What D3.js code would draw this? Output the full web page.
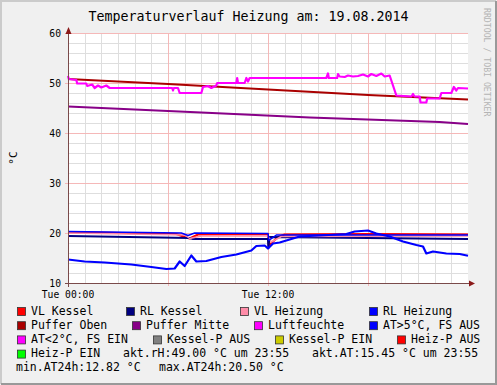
<!DOCTYPE html>
<html>
<head>
<meta charset="utf-8">
<script src="https://cdn.jsdelivr.net/npm/d3@7"></script>
<style>
  body { margin: 0; background: #fff; }
  text { font-family: "DejaVu Sans Mono", monospace; }
</style>
</head>
<body>
<svg width="497" height="385"></svg>
<script>
// hours since 19.08.2014 00:00, values in °C / %
var vlKesselHours = [0, 6.5, 7.0, 7.3, 7.8, 12.0, 12.05, 12.6, 13.0, 18, 24];
var vlKesselValues = [20.2, 19.8, 19.2, 18.9, 19.7, 19.8, 17.5, 19.2, 19.7, 19.8, 19.7];

var rlKesselHours = [0, 7.3, 7.5, 12.0, 12.02, 12.1, 18, 24];
var rlKesselValues = [19.4, 19.0, 18.8, 18.8, 17.0, 19.2, 19.0, 18.8];

var vlHeizungHours = [0, 7.0, 7.3, 8.0, 12.0, 12.2, 12.8, 24];
var vlHeizungValues = [20.0, 19.6, 18.9, 19.4, 19.4, 18.2, 19.3, 19.4];

var rlHeizungHours = [0, 6.8, 7.2, 7.6, 12.0, 12.05, 12.5, 24];
var rlHeizungValues = [20.3, 20.0, 19.5, 20.0, 19.9, 18.5, 19.6, 19.6];

var pufferObenHours = [0, 6, 12, 18, 24];
var pufferObenValues = [50.8, 49.8, 48.7, 47.6, 46.7];

var pufferMitteHours = [0, 8, 14.5, 22.3, 24];
var pufferMitteValues = [45.3, 44.1, 43.1, 42.2, 41.8];

var luftHours = [0, 0.05, 0.5, 0.55, 1.1, 1.15, 1.45, 1.6, 1.8, 2.0, 2.3, 2.5,
  6.25, 6.3, 6.35, 6.6, 6.7, 8.0, 8.1, 8.4, 8.6, 8.9, 8.95, 10.1, 10.15, 10.2,
  10.6, 10.7, 10.8, 10.9, 15.5, 15.6, 15.65, 16.15, 16.2, 16.3, 16.6, 16.8, 17.1,
  17.4, 17.7, 18.0, 18.2, 18.5, 18.8, 19.0, 19.3, 19.5, 19.7, 20.6, 20.7, 20.8,
  21.1, 21.15, 21.5, 21.55, 22.3, 22.4, 23.0, 23.15, 23.3, 23.4, 24];
var luftValues = [51.4, 50.8, 50.6, 49.9, 49.9, 49.4, 49.7, 49.0, 49.5, 49.1, 49.5, 49.0,
  49.0, 48.5, 49.0, 49.0, 48.0, 48.0, 49.2, 49.4, 49.0, 49.5, 50.0, 50.0, 51.0, 50.0,
  50.0, 51.0, 50.3, 51.0, 51.0, 51.9, 51.0, 51.0, 51.8, 51.3, 51.2, 51.5, 51.3,
  51.4, 51.7, 51.3, 51.8, 51.4, 51.9, 51.3, 51.5, 49.5, 47.5, 47.3, 47.8, 47.3,
  47.3, 46.1, 46.1, 46.9, 46.9, 48.0, 48.0, 49.2, 48.5, 49.0, 48.9];

var atHours = [0, 1.0, 2.2, 3.8, 5.0, 5.9, 6.4, 6.7, 7.0, 7.4, 7.7, 8.3, 9.2, 10.1,
  11.0, 11.3, 11.8, 12.0, 12.3, 12.7, 13.3, 13.9, 15.1, 16.7, 17.2, 18.0, 18.5,
  19.3, 20.1, 20.9, 21.3, 21.5, 21.9, 22.7, 23.5, 24];
var atValues = [14.7, 14.3, 14.1, 13.7, 13.2, 12.8, 12.9, 14.3, 13.4, 15.5, 14.3, 14.4,
  15.2, 15.7, 16.5, 17.4, 17.5, 16.9, 17.9, 18.1, 18.7, 19.3, 19.5, 19.8, 20.3, 20.5,
  19.9, 19.3, 18.3, 17.6, 17.3, 15.9, 16.3, 15.9, 15.8, 15.45];

var legendNames = ["VL Kessel", "RL Kessel", "VL Heizung", "RL Heizung",
  "Puffer Oben", "Puffer Mitte", "Luftfeuchte", "AT>5°C, FS AUS",
  "AT<2°C, FS EIN", "Kessel-P AUS", "Kessel-P EIN", "Heiz-P AUS", "Heiz-P EIN"];
var legendColors = ["#ff0000", "#000080", "#ff8ca8", "#0000ff",
  "#aa0000", "#880088", "#ff00ff", "#0000ff",
  "#ff00ff", "#808080", "#cccc00", "#ff0000", "#00ff00"];
var statLines = ["akt.rH:49.00 °C um 23:55", "akt.AT:15.45 °C um 23:55",
  "min.AT24h:12.82 °C", "max.AT24h:20.50 °C"];

var yTicks = [10, 20, 30, 40, 50, 60];

function main() {
  var svg = d3.select("svg"),
      left = 68, top = 33, width = 400, height = 250;

  var t0 = new Date(2014, 7, 19, 0, 0), t1 = new Date(2014, 7, 20, 0, 0);
  var toDate = function(h) { return new Date(t0.getTime() + h * 3600e3); };

  var x = d3.scaleTime().domain([t0, t1]).range([left, left + width]);
  var y = d3.scaleLinear().domain([10, 60]).range([top + height, top]);

  // frame
  svg.append("rect").attr("width", 497).attr("height", 385).attr("fill", "#f0f0f0");
  svg.append("path").attr("d", "M1,384V1H496").attr("fill", "none")
    .attr("stroke", "#cbcbcb").attr("stroke-width", 2);
  svg.append("path").attr("d", "M1,384H496V1").attr("fill", "none")
    .attr("stroke", "#999").attr("stroke-width", 2);

  svg.append("rect").attr("x", left).attr("y", top)
    .attr("width", width).attr("height", height).attr("fill", "#fff");

  // grid (no line at the right canvas edge)
  var notEnd = function(d) { return +d < +t1; };
  var grid = svg.append("g").attr("shape-rendering", "crispEdges");
  var hourTicks = x.ticks(d3.timeHour.every(1)).filter(notEnd);
  grid.selectAll(".vminor").data(hourTicks).enter().append("line")
    .attr("x1", function(d) { return Math.round(x(d)) + 0.5; })
    .attr("x2", function(d) { return Math.round(x(d)) + 0.5; })
    .attr("y1", top).attr("y2", top + height)
    .attr("stroke", "#dedede");
  grid.selectAll(".hminor").data(d3.range(10, 61, 2)).enter().append("line")
    .attr("x1", left).attr("x2", left + width)
    .attr("y1", function(d) { return Math.round(y(d)) + 0.5; })
    .attr("y2", function(d) { return Math.round(y(d)) + 0.5; })
    .attr("stroke", "#dedede");
  grid.selectAll(".vmajor").data(x.ticks(d3.timeHour.every(6)).filter(notEnd)).enter().append("line")
    .attr("x1", function(d) { return Math.round(x(d)) + 0.5; })
    .attr("x2", function(d) { return Math.round(x(d)) + 0.5; })
    .attr("y1", top).attr("y2", top + height + 3)
    .attr("stroke", "#f5b8b8");
  grid.selectAll(".hmajor").data(yTicks).enter().append("line")
    .attr("x1", left - 3).attr("x2", left + width)
    .attr("y1", function(d) { return Math.round(y(d)) + 0.5; })
    .attr("y2", function(d) { return Math.round(y(d)) + 0.5; })
    .attr("stroke", "#f5b8b8");

  // series, drawn in legend order
  var line = d3.line()
    .x(function(d) { return x(toDate(d[0])); })
    .y(function(d) { return y(d[1]); });
  var series = [
    [vlKesselHours, vlKesselValues, legendColors[0], 2],
    [rlKesselHours, rlKesselValues, legendColors[1], 2],
    [vlHeizungHours, vlHeizungValues, legendColors[2], 1.5],
    [rlHeizungHours, rlHeizungValues, legendColors[3], 1.5],
    [pufferObenHours, pufferObenValues, legendColors[4], 2],
    [pufferMitteHours, pufferMitteValues, legendColors[5], 2],
    [luftHours, luftValues, legendColors[6], 2.2],
    [atHours, atValues, legendColors[7], 2.2]
  ];
  series.forEach(function(s) {
    svg.append("path")
      .datum(d3.zip(s[0], s[1]))
      .attr("fill", "none")
      .attr("stroke", s[2])
      .attr("stroke-width", s[3])
      .attr("stroke-linejoin", "round")
      .attr("d", line);
  });

  // axes
  var ax = svg.append("g").attr("shape-rendering", "crispEdges");
  ax.append("line").attr("x1", left - 3).attr("x2", left + width + 2)
    .attr("y1", top + height + 0.5).attr("y2", top + height + 0.5).attr("stroke", "#7a4a4a");
  ax.append("line").attr("x1", left + 0.5).attr("x2", left + 0.5)
    .attr("y1", top + height + 4).attr("y2", top - 3).attr("stroke", "#7a4a4a");
  svg.append("path")
    .attr("d", "M" + (left + width + 1) + "," + (top + height - 2.5) + "l6,3l-6,3z")
    .attr("fill", "#8b1a1a");
  svg.append("path")
    .attr("d", "M" + (left - 2.5) + "," + (top + 1) + "l3,-7l3,7z")
    .attr("fill", "#8b1a1a");

  svg.append("g").selectAll("text").data(yTicks).enter().append("text")
    .attr("x", left - 7).attr("y", function(d) { return y(d) + 3.5; })
    .attr("text-anchor", "end").attr("font-size", "9.7px").attr("fill", "#000")
    .text(function(d) { return d; });

  var fmt = d3.timeFormat("%a %H:%M");
  svg.append("g").selectAll("text").data(x.ticks(d3.timeHour.every(12)).slice(0, 2)).enter()
    .append("text")
    .attr("x", function(d) { return x(d); }).attr("y", top + height + 15)
    .attr("text-anchor", "middle").attr("font-size", "9.7px")
    .text(function(d) { return fmt(d); });

  svg.append("text")
    .attr("transform", "translate(17," + (top + height / 2) + ") rotate(-90)")
    .attr("text-anchor", "middle").attr("font-size", "11px")
    .text("°C");

  // title
  svg.append("text").attr("x", 248.5).attr("y", 21)
    .attr("text-anchor", "middle").attr("font-size", "13.3px")
    .text("Temperaturverlauf Heizung am: 19.08.2014");

  svg.append("text")
    .attr("transform", "translate(484,8) rotate(90)")
    .attr("font-size", "8.2px").attr("fill", "#b4b4b4")
    .text("RRDTOOL / TOBI OETIKER");

  // legend
  var legendX = [31, 140, 254, 383, 31, 146, 268, 383, 31, 167, 289, 411, 31];
  var rowY = [314.5, 328.7, 342.9, 357.1, 371.3];
  var lg = svg.append("g").attr("font-size", "11.5px");
  legendNames.forEach(function(name, i) {
    var by = rowY[Math.floor(i / 4)];
    lg.append("rect")
      .attr("x", legendX[i] - 13.5).attr("y", by - 7)
      .attr("width", 8).attr("height", 8)
      .attr("fill", legendColors[i]).attr("stroke", "#333").attr("stroke-width", 0.8);
    lg.append("text").attr("x", legendX[i]).attr("y", by).text(name);
  });
  var statX = [123, 312, 16, 159], statRow = [3, 3, 4, 4];
  statLines.forEach(function(s, i) {
    lg.append("text").attr("x", statX[i]).attr("y", rowY[statRow[i]]).text(s);
  });
}
main();
</script>
</body>
</html>
